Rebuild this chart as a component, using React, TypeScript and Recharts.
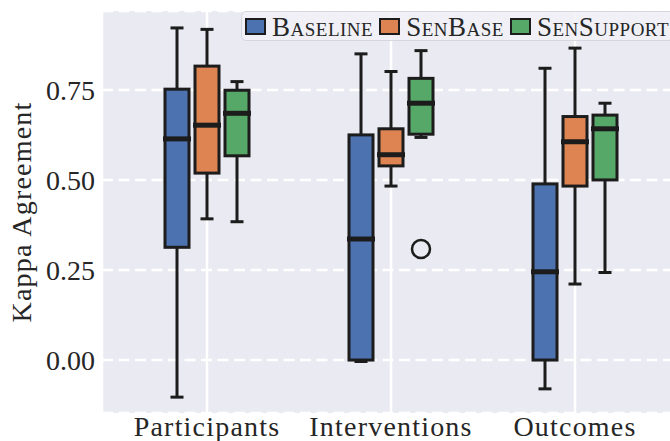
import React from 'react';
import { ComposedChart, Bar, XAxis, YAxis, CartesianGrid, Legend, Label } from 'recharts';

const categories = ['Participants', 'Interventions', 'Outcomes'];
const seriesNames = ['Baseline', 'SenBase', 'SenSupport'];
const seriesColors = ['#4C72B0', '#DD8452', '#55A868'];

// [lower whisker, Q1, median, Q3, upper whisker] per category
const baselineStats = [
  [-0.103, 0.313, 0.614, 0.752, 0.922],
  [-0.004, 0.0, 0.336, 0.625, 0.85],
  [-0.08, 0.0, 0.245, 0.489, 0.81],
];
const senBaseStats = [
  [0.392, 0.519, 0.652, 0.816, 0.918],
  [0.483, 0.539, 0.57, 0.642, 0.801],
  [0.211, 0.483, 0.606, 0.676, 0.866],
];
const senSupportStats = [
  [0.384, 0.567, 0.685, 0.749, 0.773],
  [0.618, 0.627, 0.713, 0.782, 0.859],
  [0.243, 0.5, 0.642, 0.68, 0.713],
];
const baselineOutliers = [[], [], []];
const senBaseOutliers = [[], [], []];
const senSupportOutliers = [[], [0.308], []];

const yTicks = [0, 0.25, 0.5, 0.75];
const yDomain = [-0.147, 0.969];

const FONT = "'Liberation Serif', 'Times New Roman', serif";
const TEXT = '#262626';
const EDGE = '#1c1c1c';

const data = categories.map((name, i) => ({
  name,
  baseline: baselineStats[i],
  baselineOut: baselineOutliers[i],
  senBase: senBaseStats[i],
  senBaseOut: senBaseOutliers[i],
  senSupport: senSupportStats[i],
  senSupportOut: senSupportOutliers[i],
}));

const seriesKeys = ['baseline', 'senBase', 'senSupport'];

function makeBoxShape(key: string, color: string) {
  return (props: any) => {
    const { x, y, width, height, payload } = props;
    const s: number[] = payload[key];
    const outs: number[] = payload[key + 'Out'] || [];
    const top = Math.min(y, y + height);
    const bottom = Math.max(y, y + height);
    const unit = (bottom - top) / (s[4] - s[0]);
    const py = (v: number) => bottom - (v - s[0]) * unit;
    const cx = x + width / 2;
    const capHalf = 6.5;
    return (
      <g>
        <line x1={cx} x2={cx} y1={py(s[4])} y2={py(s[3])} stroke={EDGE} strokeWidth={3} />
        <line x1={cx} x2={cx} y1={py(s[1])} y2={py(s[0])} stroke={EDGE} strokeWidth={3} />
        <line x1={cx - capHalf} x2={cx + capHalf} y1={py(s[4])} y2={py(s[4])} stroke={EDGE} strokeWidth={3} />
        <line x1={cx - capHalf} x2={cx + capHalf} y1={py(s[0])} y2={py(s[0])} stroke={EDGE} strokeWidth={3} />
        <rect x={x} y={py(s[3])} width={width} height={py(s[1]) - py(s[3])} fill={color} stroke={EDGE} strokeWidth={3} />
        <line x1={x - 2} x2={x + width + 2} y1={py(s[2])} y2={py(s[2])} stroke={EDGE} strokeWidth={5} />
        {outs.map((v, i) => (
          <circle key={i} cx={cx} cy={py(v)} r={9} fill="none" stroke={EDGE} strokeWidth={2.5} />
        ))}
      </g>
    );
  };
}

const renderLegend = (props: any) => {
  const payload = props.payload && props.payload.length
    ? props.payload
    : seriesNames.map((n, i) => ({ value: n, color: seriesColors[i] }));
  return (
    <div
      style={{
        display: 'flex',
        alignItems: 'center',
        height: 30,
        boxSizing: 'border-box',
        border: '1.5px solid #d6d6de',
        borderRadius: 5,
        background: 'rgba(241,241,246,0.8)',
        paddingLeft: 3,
        fontFamily: FONT,
        fontSize: 27,
        fontVariant: 'small-caps',
        letterSpacing: 0.5,
        color: TEXT,
        whiteSpace: 'nowrap',
      }}
    >
      {payload.map((item: any, i: number) => (
        <div key={i} style={{ display: 'flex', alignItems: 'center', marginRight: 6 }}>
          <span
            style={{
              display: 'inline-block',
              width: 21,
              height: 17,
              boxSizing: 'border-box',
              border: '2.5px solid ' + EDGE,
              background: item.color,
              marginRight: 6,
            }}
          />
          <span style={{ lineHeight: 1, position: 'relative', top: 1 }}>{item.value}</span>
        </div>
      ))}
    </div>
  );
};

const renderYLabel = (props: any) => {
  const vb = props.viewBox || { x: 0, y: 11, width: 102, height: 402 };
  const lx = vb.x + 31;
  const ly = vb.y + vb.height / 2;
  return (
    <text
      x={lx}
      y={ly}
      transform={`rotate(-90 ${lx} ${ly})`}
      textAnchor="middle"
      fontFamily={FONT}
      fontSize={28}
      letterSpacing={1.2}
      fill={TEXT}
    >
      Kappa Agreement
    </text>
  );
};

export default function App() {
  return (
    <div
      style={{
        position: 'fixed',
        left: 0,
        top: 0,
        width: 670,
        height: 441,
        overflow: 'hidden',
        background: '#ffffff',
      }}
    >
      <ComposedChart
        width={700}
        height={441}
        data={data}
        margin={{ top: 11, right: 20, bottom: 0, left: 0 }}
        barSize={24}
        barGap={6}
      >
        <CartesianGrid
          vertical={false}
          stroke="#ffffff"
          strokeWidth={2.5}
          strokeDasharray="11 5.5"
          fill="#EAEAF2"
          fillOpacity={1}
        />
        <CartesianGrid horizontal={false} stroke="#ffffff" strokeWidth={2.5} />
        <XAxis
          dataKey="name"
          height={28}
          padding={{ left: 13, right: 13 }}
          axisLine={false}
          tickLine={false}
          tickSize={0}
          tickMargin={3}
          interval={0}
          tick={{ fill: TEXT, fontSize: 28, fontFamily: FONT, letterSpacing: 1.2 }}
        />
        <YAxis
          type="number"
          width={102}
          domain={yDomain}
          ticks={yTicks}
          allowDataOverflow
          axisLine={false}
          tickLine={false}
          tickSize={0}
          tickMargin={7}
          tickFormatter={(v: number) => v.toFixed(2)}
          tick={{ fill: TEXT, fontSize: 28, fontFamily: FONT }}
        >
          <Label content={renderYLabel} />
        </YAxis>
        <Legend
          layout="horizontal"
          verticalAlign="middle"
          align="center"
          content={renderLegend}
          wrapperStyle={{ left: 241, top: 11, width: 470, height: 30 }}
        />
        {seriesKeys.map((key, i) => (
          <Bar
            key={key}
            name={seriesNames[i]}
            dataKey={(d: any) => [d[key][0], d[key][4]]}
            fill={seriesColors[i]}
            shape={makeBoxShape(key, seriesColors[i])}
            isAnimationActive={false}
          />
        ))}
      </ComposedChart>
    </div>
  );
}
